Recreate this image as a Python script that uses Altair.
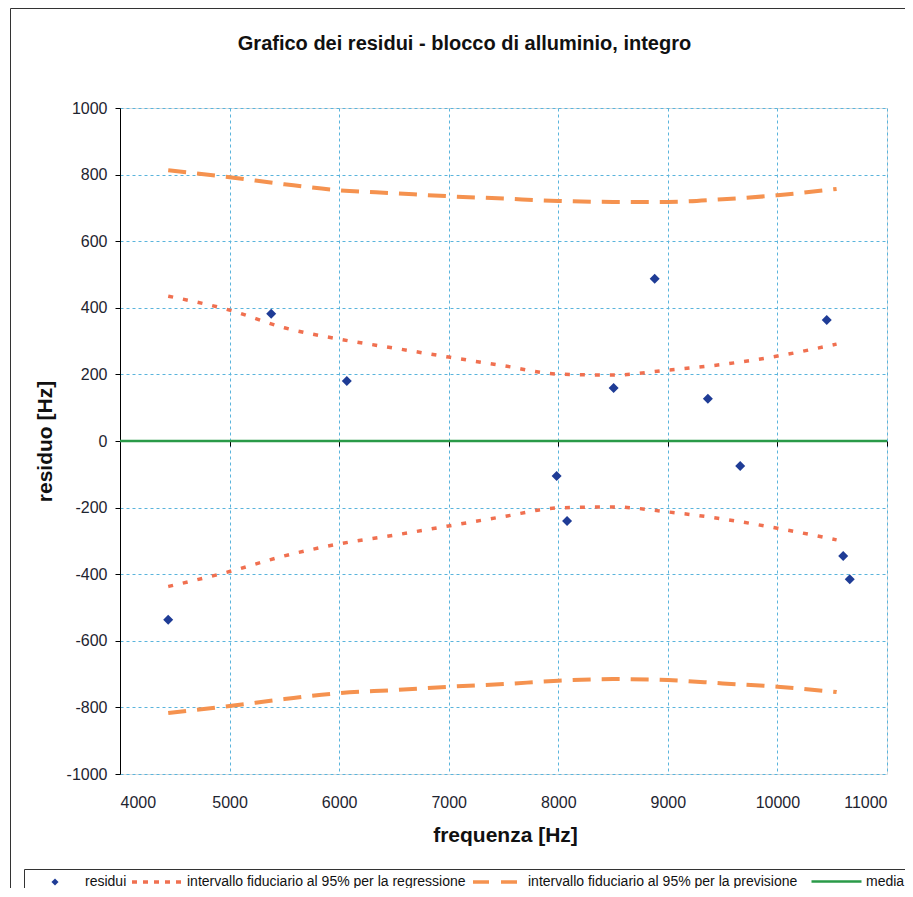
import altair as alt
import pandas as pd

# ---------------- data ----------------
S_RES = "residui"
S_REG = "intervallo fiduciario al 95% per la regressione"
S_PRE = "intervallo fiduciario al 95% per la previsione"
S_MED = "media"

freq_res = [4440, 5380, 6070, 7985, 8080, 8505, 8880, 9365, 9660, 10450, 10600, 10660]
residui = [-537, 382, 180, -105, -240, 159, 487, 127, -75, 363, -345, -415]

freq_band = [4440, 5000, 5500, 6000, 6500, 7000, 7500, 8000, 8500, 9000, 9500, 10000, 10540]
reg_upper = [435, 393, 340, 306, 279, 252, 226, 201, 198, 213, 230, 255, 291]
reg_lower = [-437, -392, -345, -309, -283, -255, -227, -201, -198, -213, -234, -262, -297]
prev_upper = [813, 792, 771, 753, 744, 735, 728, 721, 718, 718, 726, 738, 757]
prev_lower = [-817, -796, -775, -757, -748, -738, -730, -720, -715, -718, -728, -738, -754]

media_x = [4000, 11000]
media_y = [0, 0]

x_ticks = [4000, 5000, 6000, 7000, 8000, 9000, 10000, 11000]
y_ticks = [-1000, -800, -600, -400, -200, 0, 200, 400, 600, 800, 1000]

# ---------------- tables ----------------
df_res = pd.DataFrame({"freq": freq_res, "val": residui, "serie": S_RES})
df_reg = pd.concat([
    pd.DataFrame({"freq": freq_band, "val": reg_upper, "side": "sup"}),
    pd.DataFrame({"freq": freq_band, "val": reg_lower, "side": "inf"}),
])
df_reg["serie"] = S_REG
df_pre = pd.concat([
    pd.DataFrame({"freq": freq_band, "val": prev_upper, "side": "sup"}),
    pd.DataFrame({"freq": freq_band, "val": prev_lower, "side": "inf"}),
])
df_pre["serie"] = S_PRE
df_med = pd.DataFrame({"freq": media_x, "val": media_y, "serie": S_MED})

# ---------------- style ----------------
FONT = "Liberation Sans"
C_RES = "#1F3C96"
C_REG = "#F07050"
C_PRE = "#F5924F"
C_MED = "#2A9A48"
C_GRID = "#5AB4DC"
C_TXT = "#1E2430"

W, H = 767, 666

xscale = alt.Scale(domain=[4000, 11000], nice=False, zero=False)
yscale = alt.Scale(domain=[-1000, 1000], nice=False)

x_main = alt.X(
    "freq:Q", scale=xscale,
    axis=alt.Axis(
        values=x_ticks, labelExpr="'' + datum.value", grid=True, gridColor=C_GRID,
        gridDash=[3, 3], gridWidth=1, domain=False, ticks=False, tickSize=0, labelPadding=20,
        labelFont=FONT, labelFontSize=16, labelColor=C_TXT,
        title="frequenza [Hz]", titleFont=FONT, titleFontSize=21, titleFontWeight="bold",
        titleColor="#111", titleX=385, titleY=67, titleBaseline="alphabetic",
    ),
)
x_none = alt.X("freq:Q", scale=xscale, axis=None)
x_tickaxis = alt.X(
    "freq:Q", scale=xscale,
    axis=alt.Axis(
        orient="bottom", offset=-333, values=x_ticks, labels=False, grid=False,
        domain=False, ticks=True, tickColor="#000", tickSize=5, tickWidth=1, title=None,
    ),
)
y_enc = alt.Y(
    "val:Q", scale=yscale,
    axis=alt.Axis(
        values=y_ticks, labelExpr="'' + datum.value", grid=True, gridColor=C_GRID,
        gridDash=[3, 3], gridWidth=1, domain=True, domainColor="#000", domainWidth=1,
        ticks=True, tickColor="#000", tickSize=5, labelPadding=8,
        labelFont=FONT, labelFontSize=16, labelColor=C_TXT,
        title="residuo [Hz]", titleFont=FONT, titleFontSize=21, titleFontWeight="bold",
        titleColor="#111", titleX=-75, titleY=333, titleBaseline="middle", titleAngle=270,
    ),
)


def leg(x, y, offset, **kw):
    return alt.Legend(
        title=None, orient="none", legendX=x, legendY=y, padding=0, labelLimit=0,
        labelOffset=offset, labelFont=FONT, labelFontSize=14, labelColor="#111",
        **kw,
    )


def col(name, colour, legend):
    return alt.Color("serie:N", scale=alt.Scale(domain=[name], range=[colour]), legend=legend)


frame = alt.Chart(pd.DataFrame({"k": [0]})).mark_rect(
    fill="transparent", stroke="#333333", strokeWidth=1
).encode(
    x=alt.value(-109.5), x2=alt.value(900), y=alt.value(-99.5), y2=alt.value(900)
)
legend_box = alt.Chart(pd.DataFrame({"k": [0]})).mark_rect(
    fill="transparent", stroke="#333333", strokeWidth=1
).encode(
    x=alt.value(-95.5), x2=alt.value(791.5), y=alt.value(761.5), y2=alt.value(900)
)

reg = alt.Chart(df_reg).mark_line(
    strokeWidth=3.5, strokeDash=[5, 10], interpolate="monotone"
).encode(
    x=x_main, y=y_enc, detail="side:N",
    color=col(S_REG, C_REG, leg(10, 747, 3, symbolType="stroke", symbolSize=2500,
                                symbolDash=[5, 6], symbolStrokeWidth=3.5)),
)

pre = alt.Chart(df_pre).mark_line(
    strokeWidth=4, strokeDash=[18, 11], interpolate="monotone"
).encode(
    x=x_none, y=y_enc, detail="side:N",
    color=col(S_PRE, C_PRE, leg(351, 747, 3, symbolType="stroke", symbolSize=2500,
                                symbolDash=[16, 12], symbolStrokeWidth=3.5)),
)

med = alt.Chart(df_med).mark_line(strokeWidth=2.5).encode(
    x=x_tickaxis, y=y_enc,
    color=col(S_MED, C_MED, leg(690, 747, 3, symbolType="stroke", symbolSize=2500,
                                symbolStrokeWidth=2.5)),
)

pts = alt.Chart(df_res).mark_point(shape="diamond", filled=True, size=100, opacity=1).encode(
    x=x_none, y=y_enc,
    color=col(S_RES, C_RES, leg(-72, 767, 23, symbolType="diamond", symbolSize=50)),
)

chart = alt.layer(frame, legend_box, reg, pre, med, pts).resolve_axis(
    x="independent"
).resolve_scale(color="independent").properties(
    width=W, height=H,
    autosize=alt.AutoSizeParams(type="none"),
    padding={"left": 112, "top": 100, "right": 18, "bottom": 114},
    title=alt.TitleParams(
        "Grafico dei residui - blocco di alluminio, integro",
        font=FONT, fontSize=20, fontWeight="bold", color="#111",
        anchor="middle", dx=-39, offset=-62, baseline="alphabetic",
    ),
).configure_view(stroke="#80BDDB", strokeWidth=1).configure(background="white")

chart.save("out.html", embed_options={"renderer": "svg", "actions": False})
